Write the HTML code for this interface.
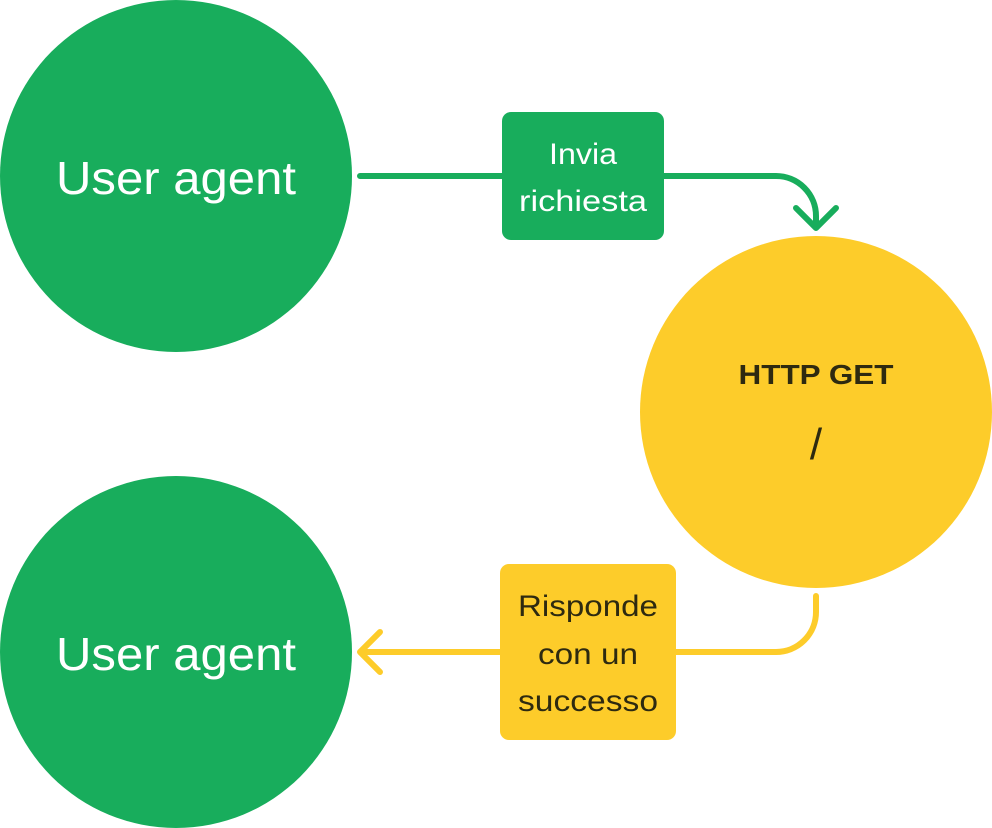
<!DOCTYPE html>
<html><head><meta charset="utf-8"><style>
html,body{margin:0;padding:0;background:#fff;}
svg{display:block;}
text{font-family:"Liberation Sans",sans-serif;}
</style></head><body>
<svg width="992" height="828" viewBox="0 0 992 828" xmlns="http://www.w3.org/2000/svg">
<circle cx="176" cy="176" r="176" fill="#18ad5c"/>
<circle cx="176" cy="652" r="176" fill="#18ad5c"/>
<circle cx="816" cy="412" r="176" fill="#fdcc2a"/>
<path d="M360 176 H776 A40 40 0 0 1 816 216 V226" fill="none" stroke="#18ad5c" stroke-width="6" stroke-linecap="round"/>
<path d="M796 208 L816 228 L836 208" fill="none" stroke="#18ad5c" stroke-width="6" stroke-linecap="round" stroke-linejoin="round"/>
<path d="M816 596 V612 A40 40 0 0 1 776 652 H362" fill="none" stroke="#fdcc2a" stroke-width="6" stroke-linecap="round"/>
<path d="M380 632 L360 652 L380 672" fill="none" stroke="#fdcc2a" stroke-width="6" stroke-linecap="round" stroke-linejoin="round"/>
<rect x="502" y="112" width="162" height="128" rx="9" fill="#18ad5c"/>
<rect x="500" y="564" width="176" height="176" rx="9" fill="#fdcc2a"/>
<g fill="#fff" font-size="46" text-anchor="middle">
<text x="176" y="194" textLength="240" lengthAdjust="spacingAndGlyphs">User agent</text>
<text x="176" y="670" textLength="240" lengthAdjust="spacingAndGlyphs">User agent</text>
</g>
<g fill="#fff" font-size="30" text-anchor="middle">
<text x="583" y="164" textLength="68" lengthAdjust="spacingAndGlyphs">Invia</text>
<text x="583" y="211" textLength="128" lengthAdjust="spacingAndGlyphs">richiesta</text>
</g>
<g fill="#2e2a10" font-size="30" text-anchor="middle">
<text x="588" y="616" textLength="140" lengthAdjust="spacingAndGlyphs">Risponde</text>
<text x="588" y="664" textLength="100" lengthAdjust="spacingAndGlyphs">con un</text>
<text x="588" y="711" textLength="140" lengthAdjust="spacingAndGlyphs">successo</text>
<text x="816" y="384" font-size="28" font-weight="bold" textLength="155" lengthAdjust="spacingAndGlyphs">HTTP GET</text>
<text x="816" y="459" font-size="44">/</text>
</g>
</svg>
</body></html>
